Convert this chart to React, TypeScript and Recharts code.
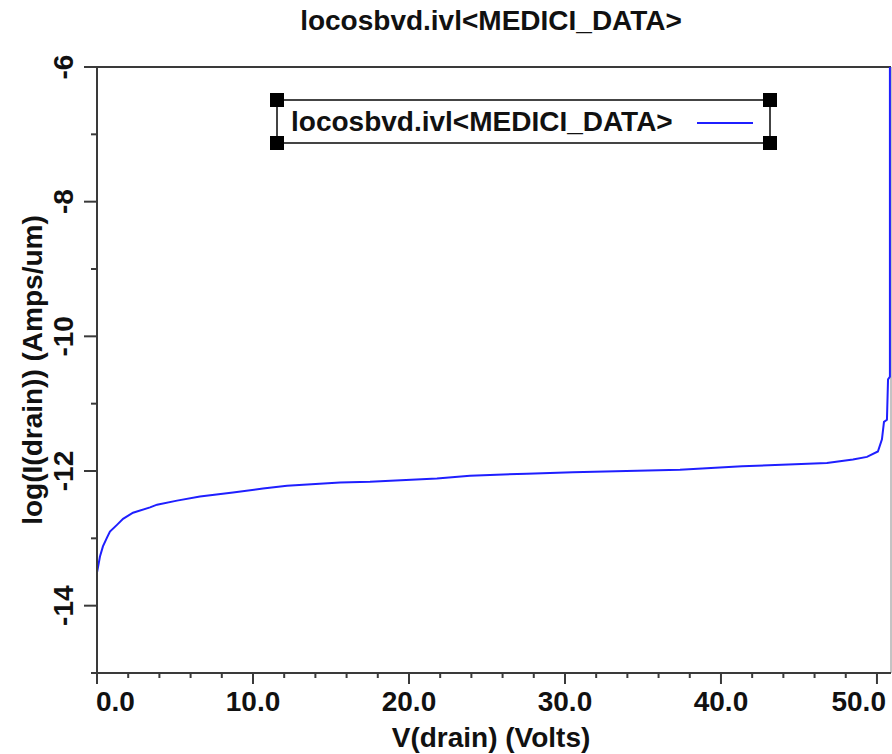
import React from 'react';
import { LineChart, Line, XAxis, YAxis, Legend, ReferenceLine, Label } from 'recharts';

// drain voltage (V) and log10 of drain current (A/um)
const vDrain = [
  0, 0, 0.19, 0.38, 0.64, 0.83, 1.28, 1.67, 2.31, 3.4, 3.85, 5.13, 6.6, 8.72,
  10.64, 12.18, 15.58, 17.5, 21.79, 23.91, 27.56, 30.51, 37.37, 41.35, 44.74,
  46.79, 48.46, 49.36, 50.06, 50.32, 50.45, 50.64, 50.71, 50.83, 50.83,
];
const logIdrain = [
  -15, -13.51, -13.27, -13.12, -12.99, -12.9, -12.8, -12.71, -12.62, -12.54,
  -12.5, -12.44, -12.38, -12.32, -12.26, -12.22, -12.17, -12.16, -12.11, -12.07,
  -12.04, -12.02, -11.98, -11.93, -11.9, -11.88, -11.83, -11.79, -11.71, -11.53,
  -11.27, -11.24, -10.64, -10.6, -6,
];

const xTicks = [0, 2, 4, 6, 8, 10, 12, 14, 16, 18, 20, 22, 24, 26, 28, 30, 32, 34, 36, 38, 40, 42, 44, 46, 48, 50];
const xLabelTicks = [0, 10, 20, 30, 40, 50];
const yTicks = [-15, -14, -13, -12, -11, -10, -9, -8, -7, -6];
const yLabelTicks = [-14, -12, -10, -8, -6];

const seriesName = 'locosbvd.ivl<MEDICI_DATA>';
const FONT = '"Liberation Sans", Arial, Helvetica, sans-serif';
const AXIS = '#3a3a3a';
const BLUE = '#1f1fff';

const chartData = vDrain.map((v, i) => ({ v, logI: logIdrain[i] }));

const XTick = (props: any) => {
  const { x, y, payload } = props;
  const major = xLabelTicks.includes(payload.value);
  const first = payload.value === xLabelTicks[0];
  const last = payload.value === xLabelTicks[xLabelTicks.length - 1];
  // end labels are kept inside the frame like in the original plot
  const anchor = first ? 'start' : last ? 'end' : 'middle';
  const tx = first ? x - 1 : last ? x + 9 : x;
  return (
    <g>
      <line x1={x} x2={x} y1={y} y2={y + (major ? 11 : 5)} stroke={AXIS} strokeWidth={2} />
      {major && (
        <text x={tx} y={y + 38} textAnchor={anchor} fontFamily={FONT} fontWeight="bold" fontSize={28} fill="#111">
          {payload.value.toFixed(1)}
        </text>
      )}
    </g>
  );
};

const YTick = (props: any) => {
  const { x, y, payload } = props;
  const major = yLabelTicks.includes(payload.value);
  return (
    <g>
      <line x1={x - (major ? 13 : 6)} x2={x} y1={y} y2={y} stroke={AXIS} strokeWidth={2} />
      {major && (
        <text
          transform={`translate(${x - 34}, ${y}) rotate(-90)`}
          textAnchor="middle"
          dominantBaseline="central"
          fontFamily={FONT}
          fontWeight="bold"
          fontSize={28}
          fill="#111"
        >
          {payload.value}
        </text>
      )}
    </g>
  );
};

const renderLegend = (props: any) => {
  const item = props.payload && props.payload[0];
  const handles = [
    [15, 15],
    [508, 15],
    [15, 58],
    [508, 58],
  ];
  return (
    <svg width={524} height={74}>
      <line x1={15} x2={508} y1={15} y2={15} stroke="#444" strokeWidth={2} />
      <line x1={15} x2={508} y1={58} y2={58} stroke="#444" strokeWidth={2} />
      <line x1={15} x2={15} y1={15} y2={58} stroke="#444" strokeWidth={2} />
      <line x1={508} x2={508} y1={15} y2={58} stroke="#444" strokeWidth={2} />
      {handles.map(([hx, hy], i) => (
        <rect key={i} x={hx - 7} y={hy - 7} width={14} height={14} fill="#000" />
      ))}
      <text x={29} y={46} fontFamily={FONT} fontWeight="bold" fontSize={28} fill="#111">
        {item ? item.value : seriesName}
      </text>
      <line x1={435} x2={491} y1={38} y2={38} stroke={item ? item.color : BLUE} strokeWidth={2} />
    </svg>
  );
};

export default function App() {
  return (
    <div style={{ position: 'absolute', left: 0, top: 0, width: 892, height: 754, background: '#fff' }}>
      <div
        style={{
          position: 'absolute',
          left: 97,
          width: 788,
          top: 7,
          textAlign: 'center',
          fontFamily: FONT,
          fontWeight: 'bold',
          fontSize: 28,
          lineHeight: '28px',
          color: '#111',
        }}
      >
        {seriesName}
      </div>
      <LineChart width={892} height={754} data={chartData} margin={{ top: 67, right: 1, bottom: 9, left: 37 }}>
        <XAxis
          dataKey="v"
          type="number"
          domain={[0, 50.9]}
          ticks={xTicks}
          interval={0}
          allowDataOverflow
          height={72}
          tickSize={0}
          tickMargin={0}
          tickLine={false}
          axisLine={{ stroke: AXIS, strokeWidth: 2 }}
          tick={<XTick />}
        >
          <Label
            content={(p: any) => {
              const vb = p.viewBox;
              return (
                <text
                  x={vb.x + vb.width / 2 - 3}
                  y={747}
                  textAnchor="middle"
                  fontFamily={FONT}
                  fontWeight="bold"
                  fontSize={28}
                  fill="#111"
                >
                  V(drain)  (Volts)
                </text>
              );
            }}
          />
        </XAxis>
        <YAxis
          type="number"
          domain={[-15, -6]}
          ticks={yTicks}
          interval={0}
          allowDataOverflow
          width={60}
          tickSize={0}
          tickMargin={0}
          tickLine={false}
          axisLine={{ stroke: AXIS, strokeWidth: 2 }}
          tick={<YTick />}
        >
          <Label
            content={(p: any) => {
              const vb = p.viewBox;
              const cy = vb.y + vb.height / 2;
              return (
                <text
                  transform={`translate(32, ${cy}) rotate(-90)`}
                  textAnchor="middle"
                  dominantBaseline="central"
                  fontFamily={FONT}
                  fontWeight="bold"
                  fontSize={28}
                  fill="#111"
                >
                  log(I(drain))  (Amps/um)
                </text>
              );
            }}
          />
        </YAxis>
        <ReferenceLine y={-6} stroke={AXIS} strokeWidth={2} />
        <ReferenceLine x={50.9} stroke="#888" strokeWidth={1} />
        <Legend
          layout="horizontal"
          verticalAlign="middle"
          align="center"
          wrapperStyle={{ left: 262, top: 85, width: 524, height: 74 }}
          content={renderLegend}
        />
        <Line
          type="linear"
          dataKey="logI"
          name={seriesName}
          stroke={BLUE}
          strokeWidth={2}
          dot={false}
          activeDot={false}
          isAnimationActive={false}
        />
      </LineChart>
    </div>
  );
}
